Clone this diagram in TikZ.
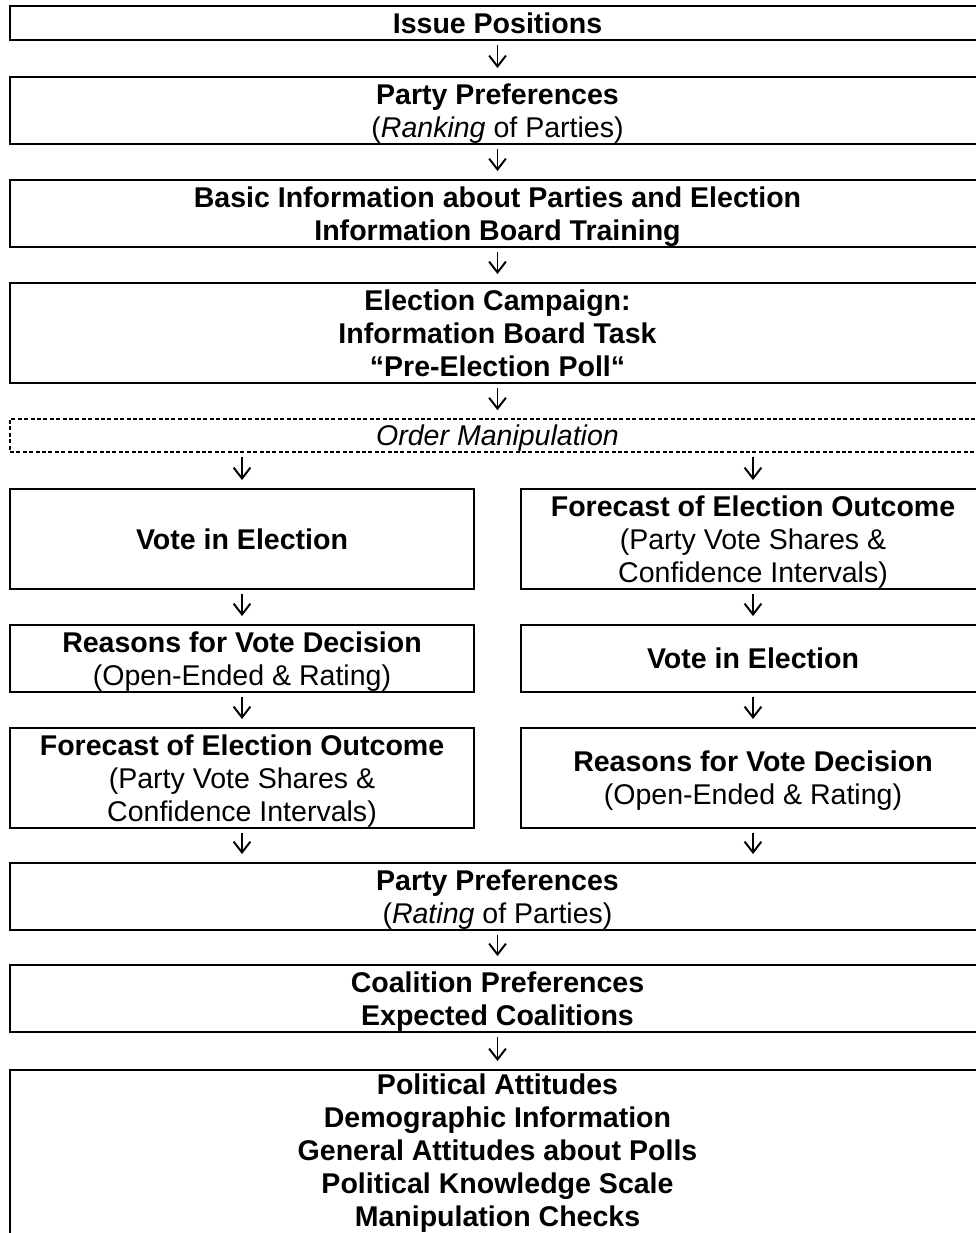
\documentclass[tikz,border=0pt]{standalone}
\usepackage{fontspec}
\setmainfont{Liberation Sans}
\usepackage{tikz}
\usetikzlibrary{positioning}
\usetikzlibrary{arrows.meta}
\usetikzlibrary{calc}
\tikzset{every picture/.style={line width=1.4pt},
box/.style={draw,align=center,inner sep=0pt,text depth=0pt,font=\fontsize{20.3}{23.5}\selectfont},
wide/.style={box,minimum width=24.375cm},
half/.style={box,minimum width=11.6cm},
dashbox/.style={wide,line width=1.2pt,dash pattern=on 0.1cm off 0.06cm},
flow/.style={-{Straight Barb[length=0.27cm,width=0.42cm]},line width=1.4pt,shorten <=0.1cm,shorten >=0.2cm}}

\begin{document}
\begin{tikzpicture}
\useasboundingbox (0,0) rectangle (24.4,-30.825);
\node (issue) at (12.4375,-0.575) [wide,minimum height=0.85cm] {\textbf{Issue Positions}};
\node (prefA) at (12.4375,-2.7625) [wide,minimum height=1.675cm] {\textbf{Party Preferences}\\(\textit{Ranking} of Parties)};
\node (basic) at (12.4375,-5.3375) [wide,minimum height=1.675cm] {\textbf{Basic Information about Parties and Election}\\\textbf{Information Board Training}};
\node (camp) at (12.4375,-8.325) [wide,minimum height=2.5cm] {\textbf{Election Campaign:}\\\textbf{Information Board Task}\\\textbf{“Pre-Election Poll“}};
\node (order) at (12.4375,-10.8875) [dashbox,minimum height=0.825cm] {\textit{Order Manipulation}};
% left order
\node (voteL) at (6.05,-13.475) [half,minimum height=2.5cm] {\textbf{Vote in Election}};
\node (reasL) at (6.05,-16.4625) [half,minimum height=1.675cm] {\textbf{Reasons for Vote Decision}\\(Open-Ended \& Rating)};
\node (foreL) at (6.05,-19.45) [half,minimum height=2.5cm] {\textbf{Forecast of Election Outcome}\\(Party Vote Shares \&\\Confidence Intervals)};
% right order
\node (foreR) at (18.825,-13.475) [half,minimum height=2.5cm] {\textbf{Forecast of Election Outcome}\\(Party Vote Shares \&\\Confidence Intervals)};
\node (voteR) at (18.825,-16.4625) [half,minimum height=1.675cm] {\textbf{Vote in Election}};
\node (reasR) at (18.825,-19.45) [half,minimum height=2.5cm] {\textbf{Reasons for Vote Decision}\\(Open-Ended \& Rating)};
\node (prefB) at (12.4375,-22.4125) [wide,minimum height=1.675cm] {\textbf{Party Preferences}\\(\textit{Rating} of Parties)};
\node (coal) at (12.4375,-24.9625) [wide,minimum height=1.675cm] {\textbf{Coalition Preferences}\\\textbf{Expected Coalitions}};
\node (final) at (12.4375,-28.95) [wide,minimum height=4.4cm,text depth=0.4cm] {\textbf{Political Attitudes}\\\textbf{Demographic Information}\\\textbf{General Attitudes about Polls}\\\textbf{Political Knowledge Scale}\\\textbf{Manipulation Checks}};
\draw[flow] (issue) -- (prefA);
\draw[flow] (prefA) -- (basic);
\draw[flow] (basic) -- (camp);
\draw[flow] (camp) -- (order);
\draw[flow] (order.south -| voteL) -- (voteL);
\draw[flow] (order.south -| foreR) -- (foreR);
\draw[flow] (voteL) -- (reasL);
\draw[flow] (reasL) -- (foreL);
\draw[flow] (foreR) -- (voteR);
\draw[flow] (voteR) -- (reasR);
\draw[flow] (foreL) -- (foreL |- prefB.north);
\draw[flow] (reasR) -- (reasR |- prefB.north);
\draw[flow] (prefB) -- (coal);
\draw[flow] (coal) -- (final);
\end{tikzpicture}
\end{document}
